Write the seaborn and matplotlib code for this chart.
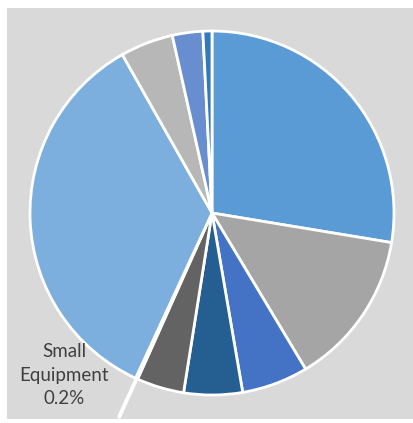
import matplotlib
matplotlib.use("Agg")
import matplotlib.pyplot as plt
import seaborn as sns
import numpy as np
from matplotlib.patches import Rectangle

sns.set_theme(style="white")
plt.rcParams['font.family'] = ['Lato', 'DejaVu Sans']

categories = ["Cat A", "Cat B", "Cat C", "Cat D", "Cat E", "Small Equipment",
              "Cat G", "Cat H", "Cat I", "Cat J"]
values = [27.6, 13.8, 5.9, 5.2, 4.2, 0.2, 34.9, 4.7, 2.7, 0.8]
colors = sns.color_palette(["#5b9bd5", "#a5a5a5", "#4472c4", "#255e91", "#636363",
                            "#997300", "#7cafdd", "#b7b7b7", "#698ed0", "#3279c0"])
label_idx = 5
label_text = "Small\nEquipment\n0.2%"

W, H = 414, 423
fig = plt.figure(figsize=(W / 100, H / 100), dpi=100)
fig.patch.set_facecolor("white")
fig.add_artist(Rectangle((7 / W, 4 / H), 406 / W, 411 / H, transform=fig.transFigure,
                         facecolor="#d9d9d9", edgecolor="none", zorder=0))

cx, cy, R = 212, 423 - 213, 182
ax = fig.add_axes([(cx - R) / W, (cy - R) / H, 2 * R / W, 2 * R / H])
ax.set_facecolor("none")
ax.patch.set_alpha(0)

wedges, _ = ax.pie(values, colors=colors, startangle=90, counterclock=False,
                   radius=1.0, wedgeprops=dict(edgecolor="white", linewidth=2.0))
ax.set_xlim(-1, 1)
ax.set_ylim(-1, 1)
ax.set_aspect("equal")
ax.axis("off")

# leader line for small slice
total = sum(values)
cum = sum(values[:label_idx]) + values[label_idx] / 2
theta = np.deg2rad(90 - 360 * cum / total)
r0, r1 = 0.95, 1.23
ax.plot([r0 * np.cos(theta), r1 * np.cos(theta)],
        [r0 * np.sin(theta), r1 * np.sin(theta)],
        color="white", linewidth=2.8, solid_capstyle="round", clip_on=False)
ax.text((64 - 212) / R, (213 - 375) / R, label_text, ha="center", va="center",
        fontsize=13.5, color="#404040", linespacing=1.45)

fig.savefig("out.png", dpi=100)
